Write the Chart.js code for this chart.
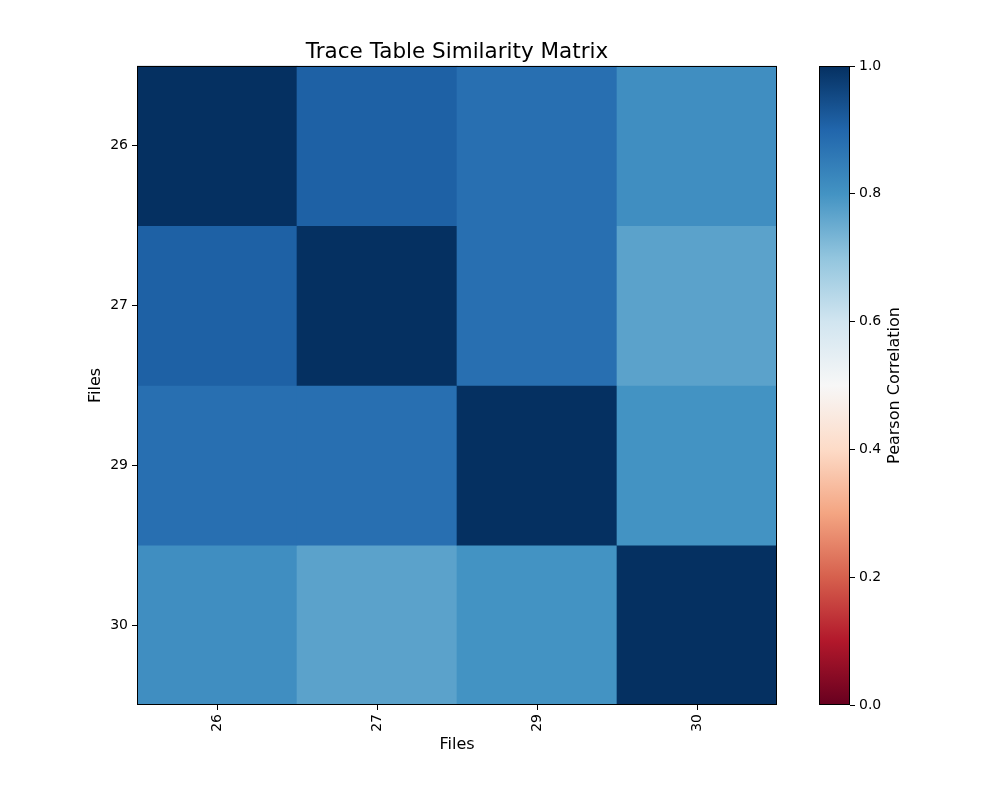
<!DOCTYPE html>
<html>
<head>
<meta charset="utf-8">
<script src="https://cdn.jsdelivr.net/npm/chart.js@4.4.0/dist/chart.umd.min.js"></script>
<style>
  html, body { margin: 0; padding: 0; background: #fff; }
  #wrap { position: relative; width: 989px; height: 796px; }
  #heat { position: absolute; left: 0; top: 0; }
  #cbar { position: absolute; left: 800px; top: 0; }
</style>
</head>
<body>
<div id="wrap">
  <canvas id="heat" width="800" height="796"></canvas>
  <canvas id="cbar" width="189" height="796"></canvas>
</div>
<script>
// file labels (rows and columns)
const files = ['26', '27', '29', '30'];

// correlation rows, one per file
const row26 = [1.00, 0.91, 0.88, 0.81];
const row27 = [0.91, 1.00, 0.88, 0.77];
const row29 = [0.88, 0.88, 1.00, 0.80];
const row30 = [0.81, 0.77, 0.80, 1.00];
const rows = [row26, row27, row29, row30];

// colorbar ticks
const cbarTicks = [0.0, 0.2, 0.4, 0.6, 0.8, 1.0];

const FONT = 'DejaVu Sans';

// matplotlib RdBu anchor colors
const rdbuStops = [
    [103, 0, 31], [178, 24, 43], [214, 96, 77], [244, 165, 130], [253, 219, 199],
    [247, 247, 247], [209, 229, 240], [146, 197, 222], [67, 147, 195], [33, 102, 172], [5, 48, 97]
];

function rdbu(v) {
    v = Math.max(0, Math.min(1, v));
    const pos = v * (rdbuStops.length - 1);
    const i = Math.min(Math.floor(pos), rdbuStops.length - 2);
    const t = pos - i;
    const a = rdbuStops[i], b = rdbuStops[i + 1];
    const c = a.map((x, k) => Math.round(x + (b[k] - x) * t));
    return `rgb(${c[0]}, ${c[1]}, ${c[2]})`;
}

// draws the black frame around the plot area
const frame = {
    id: 'frame',
    afterDraw(chart) {
        const { ctx, chartArea: a } = chart;
        ctx.save();
        ctx.strokeStyle = '#000';
        ctx.lineWidth = 1;
        ctx.strokeRect(Math.round(a.left) + 0.5, Math.round(a.top) + 0.5,
            Math.round(a.right - a.left) - 1, Math.round(a.bottom - a.top) - 1);
        ctx.restore();
    }
};

const datasets = rows.map((vals, r) => ({
    label: files[r],
    data: vals.map(() => [r - 0.5, r + 0.5]),
    backgroundColor: vals.map(v => rdbu(v)),
    borderWidth: 0,
    barPercentage: 1,
    categoryPercentage: 1
}));

new Chart(document.getElementById('heat'), {
    type: 'bar',
    data: { labels: files, datasets: datasets },
    options: {
        responsive: false,
        animation: false,
        layout: { padding: { left: 0, right: 23, top: 0, bottom: 0 } },
        plugins: {
            legend: { display: false },
            tooltip: { enabled: false },
            title: {
                display: true,
                fullSize: false,
                text: 'Trace Table Similarity Matrix',
                color: '#000',
                font: { family: FONT, size: 21.5, weight: 'normal' },
                padding: { top: 40, bottom: 0 }
            }
        },
        scales: {
            x: {
                stacked: true,
                offset: true,
                grid: { display: true, drawOnChartArea: false, offset: false, tickLength: 5, tickColor: '#000' },
                border: { display: false },
                ticks: { color: '#000', font: { family: FONT, size: 14 }, minRotation: 90, maxRotation: 90, padding: 4 },
                title: {
                    display: true, text: 'Files', color: '#000',
                    font: { family: FONT, size: 16 }, padding: { top: 0, bottom: 42 }
                },
                afterFit: scale => { scale.height = 91; }
            },
            y: {
                type: 'linear',
                stacked: false,
                reverse: true,
                min: -0.5,
                max: files.length - 0.5,
                grid: { display: true, drawOnChartArea: false, tickLength: 5, tickColor: '#000' },
                border: { display: false },
                afterBuildTicks: scale => { scale.ticks = files.map((f, i) => ({ value: i })); },
                ticks: {
                    color: '#000', font: { family: FONT, size: 14 }, padding: 4,
                    callback: value => files[value]
                },
                title: {
                    display: true, text: 'Files', color: '#000',
                    font: { family: FONT, size: 16 }, padding: { top: 86, bottom: 0 }
                },
                afterFit: scale => { scale.width = 137; }
            }
        }
    },
    plugins: [frame]
});

// colorbar label, reads bottom to top like matplotlib
const cbarLabel = {
    id: 'cbarLabel',
    afterDraw(chart) {
        const { ctx, chartArea: a } = chart;
        ctx.save();
        ctx.translate(95, (a.top + a.bottom) / 2);
        ctx.rotate(-Math.PI / 2);
        ctx.fillStyle = '#000';
        ctx.font = `16px "${FONT}"`;
        ctx.textAlign = 'center';
        ctx.textBaseline = 'middle';
        ctx.fillText('Pearson Correlation', 0, 0);
        ctx.restore();
    }
};

new Chart(document.getElementById('cbar'), {
    type: 'bar',
    data: {
        labels: ['cbar'],
        datasets: [{
            data: [[cbarTicks[0], cbarTicks[cbarTicks.length - 1]]],
            borderWidth: 0,
            barPercentage: 1,
            categoryPercentage: 1,
            backgroundColor: ctx => {
                const a = ctx.chart.chartArea;
                if (!a) return rdbu(0.5);
                const g = ctx.chart.ctx.createLinearGradient(0, a.bottom, 0, a.top);
                rdbuStops.forEach((s, i) => {
                    g.addColorStop(i / (rdbuStops.length - 1), `rgb(${s[0]}, ${s[1]}, ${s[2]})`);
                });
                return g;
            }
        }]
    },
    options: {
        responsive: false,
        animation: false,
        layout: { padding: { left: 19, right: 0, top: 66, bottom: 91 } },
        plugins: { legend: { display: false }, tooltip: { enabled: false } },
        scales: {
            x: { display: false, offset: true },
            y: {
                position: 'right',
                min: 0,
                max: 1,
                grid: { display: true, drawOnChartArea: false, tickLength: 5, tickColor: '#000' },
                border: { display: false },
                afterBuildTicks: scale => { scale.ticks = cbarTicks.map(v => ({ value: v })); },
                ticks: {
                    color: '#000', font: { family: FONT, size: 14 }, padding: 4,
                    callback: value => value.toFixed(1)
                },
                afterFit: scale => { scale.width = 139; }
            }
        }
    },
    plugins: [frame, cbarLabel]
});
</script>
</body>
</html>
